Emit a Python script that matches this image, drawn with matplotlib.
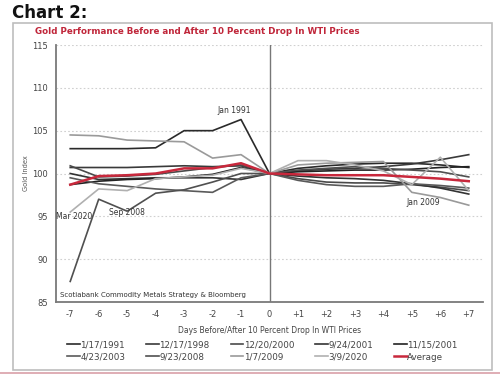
import matplotlib
matplotlib.use("Agg")
import matplotlib.pyplot as plt
from matplotlib.patches import Rectangle
from matplotlib.lines import Line2D

days = [-7, -6, -5, -4, -3, -2, -1, 0, 1, 2, 3, 4, 5, 6, 7]
tick_labels = ["-7", "-6", "-5", "-4", "-3", "-2", "-1", "0",
               "+1", "+2", "+3", "+4", "+5", "+6", "+7"]

s_1991 = [102.9, 102.9, 102.9, 103.0, 105.0, 105.0, 106.3, 100.0,
          100.6, 100.9, 101.1, 101.2, 101.2, 101.0, 100.7]
s_1998 = [100.7, 100.7, 100.7, 100.8, 100.9, 100.8, 100.9, 100.0,
          100.3, 100.5, 100.6, 100.8, 101.1, 101.6, 102.2]
s_2000 = [100.9, 99.6, 99.7, 99.9, 100.3, 100.7, 101.0, 100.0,
          99.4, 99.0, 98.9, 98.9, 98.7, 98.4, 98.0]
s_2001a = [100.0, 99.3, 99.4, 99.5, 99.5, 99.5, 99.3, 100.0,
           99.7, 99.5, 99.4, 99.2, 98.8, 98.3, 97.6]
s_2001b = [98.7, 99.1, 99.3, 99.4, 99.6, 99.9, 100.7, 100.0,
           100.2, 100.3, 100.4, 100.4, 100.5, 100.7, 100.8]
s_2003 = [99.5, 98.8, 98.5, 98.2, 98.0, 97.8, 99.5, 100.0,
          99.2, 98.7, 98.5, 98.5, 98.8, 98.6, 98.3]
s_2008 = [87.4, 97.0, 95.6, 97.7, 98.1, 99.0, 100.0, 100.0,
          100.4, 100.6, 100.8, 100.6, 100.4, 100.2, 99.6]
s_2009 = [104.5, 104.4, 103.9, 103.8, 103.7, 101.8, 102.2, 100.0,
          101.0, 101.2, 101.3, 101.4, 97.8, 97.2, 96.3]
s_2020 = [95.5, 98.2, 98.0, 99.4, 99.6, 99.8, 100.6, 100.0,
          101.5, 101.5, 101.0, 100.3, 98.7, 101.9, 98.0]
s_avg = [98.7, 99.7, 99.8, 100.0, 100.6, 100.6, 101.2, 100.0,
         99.9, 99.8, 99.8, 99.8, 99.6, 99.4, 99.1]

series = [
    ("1/17/1991", s_1991, "#2a2a2a"),
    ("12/17/1998", s_1998, "#3a3a3a"),
    ("12/20/2000", s_2000, "#4a4a4a"),
    ("9/24/2001", s_2001a, "#333333"),
    ("11/15/2001", s_2001b, "#222222"),
    ("4/23/2003", s_2003, "#5a5a5a"),
    ("9/23/2008", s_2008, "#505050"),
    ("1/7/2009", s_2009, "#9a9a9a"),
    ("3/9/2020", s_2020, "#b0b0b0"),
]

fig = plt.figure(figsize=(5, 3.75), dpi=100)
fig.patch.set_facecolor("white")

# outer frame
fig.add_artist(Rectangle((13 / 500, 1 - 370 / 375), 479 / 500, 347 / 375,
                         transform=fig.transFigure, fill=False,
                         edgecolor="#bdbdbd", linewidth=1.2))
fig.add_artist(Line2D([0, 1], [1 - 373 / 375] * 2, transform=fig.transFigure,
                      color="#d9a0a8", linewidth=1.2))

fig.text(12 / 500, 1 - 13 / 375, "Chart 2:", fontsize=12, fontweight="bold",
         color="#111111", va="center", ha="left")
fig.text(35 / 500, 1 - 32 / 375,
         "Gold Performance Before and After 10 Percent Drop In WTI Prices",
         fontsize=6.3, fontweight="bold", color="#c0263a", va="center", ha="left")

ax = fig.add_axes([56 / 500, 73 / 375, 427 / 500, 257 / 375])
ax.set_xlim(-7.5, 7.5)
ax.set_ylim(85, 115)

for y in [90, 95, 100, 105, 110, 115]:
    ax.axhline(y, color="#d0d0d0", linewidth=0.8, linestyle=(0, (1.5, 2)), zorder=0)
ax.axvline(0, color="#777777", linewidth=1.0, zorder=1)

handles = []
for name, vals, col in series:
    h, = ax.plot(days, vals, color=col, linewidth=1.2, label=name, zorder=2)
    handles.append(h)
h, = ax.plot(days, s_avg, color="#c8283c", linewidth=1.8, label="Average", zorder=3)
handles.append(h)

for sp in ["top", "right"]:
    ax.spines[sp].set_visible(False)
for sp in ["left", "bottom"]:
    ax.spines[sp].set_color("#7a7a7a")
    ax.spines[sp].set_linewidth(1.3)

ax.set_xticks(days)
ax.set_xticklabels(tick_labels)
ax.set_yticks([85, 90, 95, 100, 105, 110, 115])
ax.tick_params(axis="both", length=0, labelsize=6, colors="#444444")
ax.tick_params(axis="x", pad=6)
ax.tick_params(axis="y", pad=6)
ax.set_ylabel("Gold Index", fontsize=4.8, color="#555555", labelpad=2)
ax.set_xlabel("Days Before/After 10 Percent Drop In WTI Prices",
              fontsize=5.5, color="#444444", labelpad=5)

ax.text(-7.35, 85.5, "Scotiabank Commodity Metals Strategy & Bloomberg",
        fontsize=5.0, color="#333333", va="bottom", ha="left")
ax.text(-1.25, 106.8, "Jan 1991", fontsize=5.5, color="#333333", ha="center", va="bottom")
ax.text(-7.5, 95.0, "Mar 2020", fontsize=5.5, color="#333333", ha="left", va="center")
ax.text(-5.0, 95.5, "Sep 2008", fontsize=5.5, color="#333333", ha="center", va="center")
ax.text(5.4, 96.6, "Jan 2009", fontsize=5.5, color="#333333", ha="center", va="center")

# legend rows: row-major order -> column-major for ncol=5
order = []
for c in range(5):
    order += [c, c + 5]
leg = fig.legend([handles[i] for i in order], [handles[i].get_label() for i in order],
                 ncol=5, loc="center", bbox_to_anchor=(0.525, 1 - 351 / 375),
                 frameon=False, fontsize=6.3, handlelength=1.4, handletextpad=0.1,
                 columnspacing=2.4, labelspacing=0.35, labelcolor="#444444")

fig.savefig("out.png", dpi=100, facecolor="white")
